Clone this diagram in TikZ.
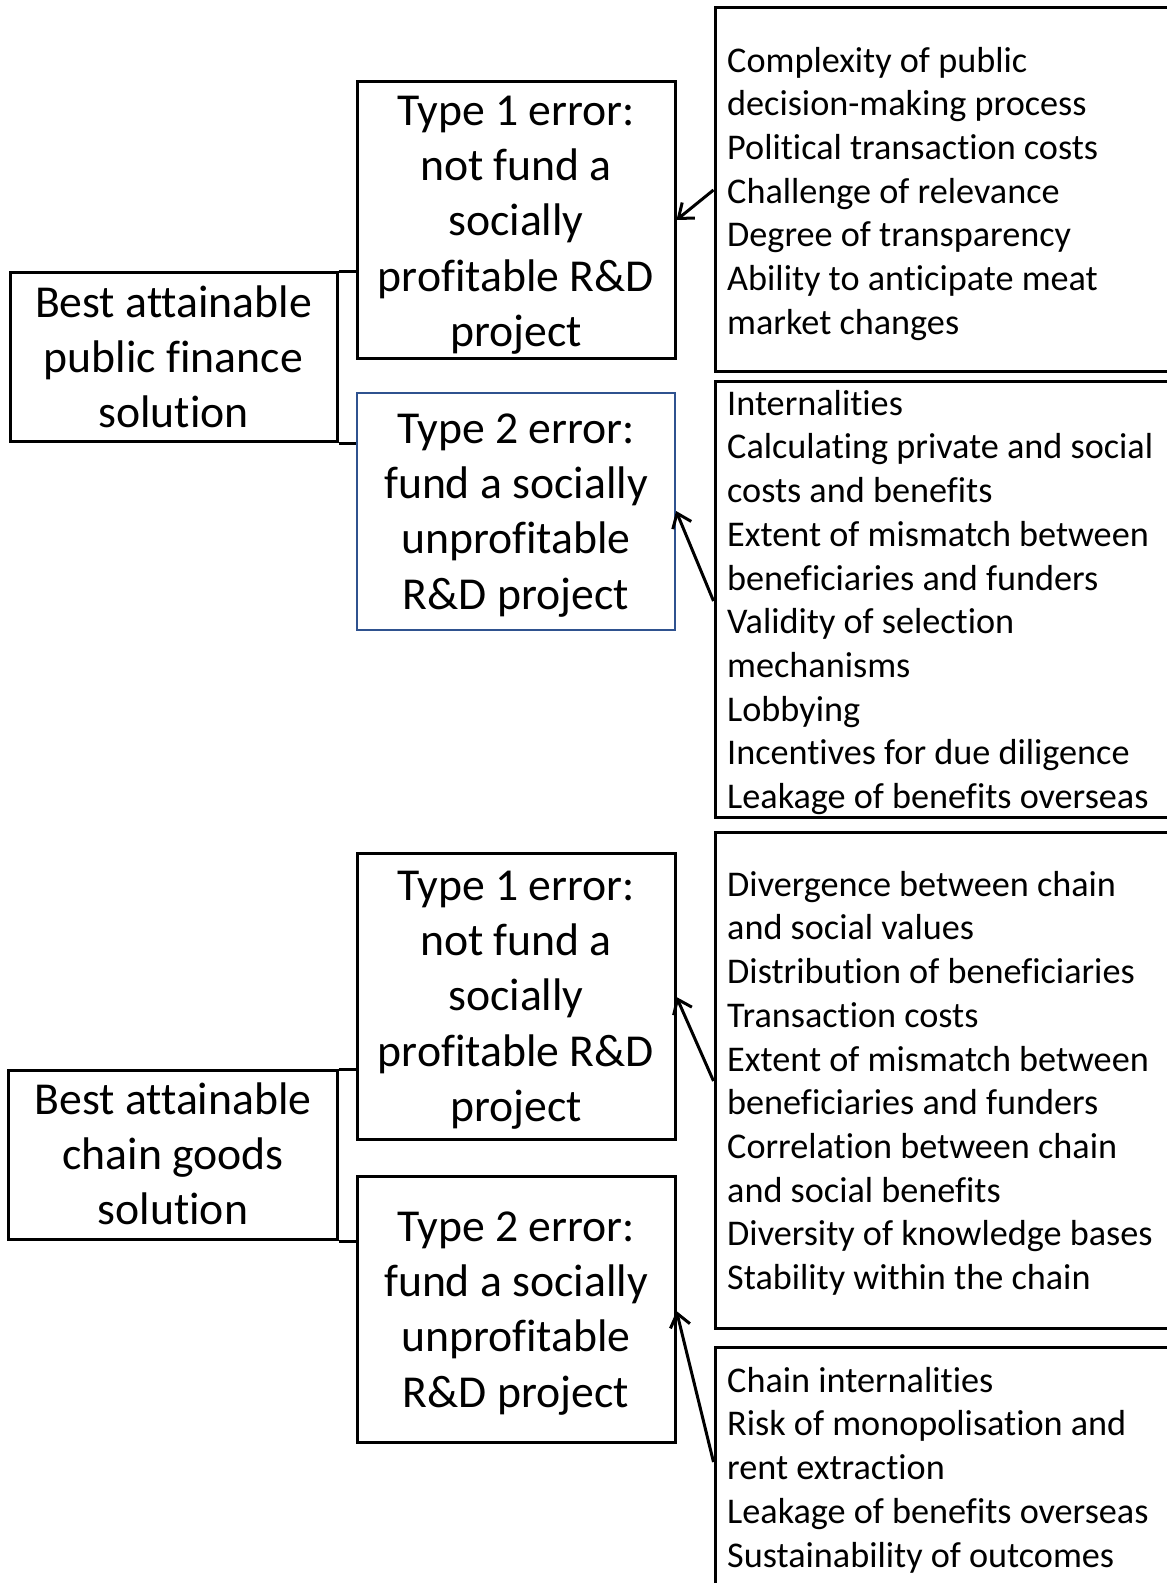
\documentclass[tikz,border=0pt]{standalone}
\usepackage{fontspec}
\setmainfont[Ligatures={CommonOff,ContextualOff},RawFeature={-liga;-clig;-calt;-dlig;-hlig}]{Carlito}
\usetikzlibrary{arrows.meta}
\definecolor{boxblue}{RGB}{47,82,143}
\begin{document}
\begin{tikzpicture}[x=1pt,y=-1pt,
  box/.style={draw=black,line width=3pt,rectangle,inner sep=0pt},
  bluebox/.style={draw=boxblue,line width=2.2pt,rectangle,inner sep=0pt},
  bigtxt/.style={anchor=north,inner sep=0pt,align=center,font=\fontsize{45.7}{55.3}\selectfont},
  listtxt/.style={anchor=north west,inner sep=0pt,align=left,font=\fontsize{36.2}{43.7}\selectfont},
  conn/.style={draw=black,line width=3pt},
  arr/.style={draw=black,line width=3pt,-{Straight Barb[length=13pt,width=20pt]}}
]
\clip (0,0) rectangle (1167,1583);
\fill[white] (0,0) rectangle (1167,1583);

% left boxes
\node[box,minimum width=327pt,minimum height=169pt] (lt) at (173.5,357) {};
\node[box,minimum width=329pt,minimum height=169pt] (lb) at (172.5,1155) {};
% middle boxes
\node[box,minimum width=318pt,minimum height=277pt] (t1) at (516,219.5) {};
\node[bluebox,minimum width=318pt,minimum height=237pt] (t2) at (516,511.5) {};
\node[box,minimum width=318pt,minimum height=286pt] (b1) at (516,996) {};
\node[box,minimum width=318pt,minimum height=266pt] (b2) at (516,1309) {};
% right boxes (open to the right / bottom)
\node[box,minimum width=480pt,minimum height=364pt] (r1) at (955,189.5) {};
\node[box,minimum width=480pt,minimum height=436pt] (r2) at (955,599.7) {};
\node[box,minimum width=480pt,minimum height=495.5pt] (r3) at (955,1080.7) {};
\node[box,minimum width=480pt,minimum height=260pt] (r4) at (955,1477.7) {};

% texts
\node[bigtxt] (ltt) at (173.5,278.3) {\strut Best attainable\\public finance\\solution};
\node[bigtxt] (lbt) at (173,1075.3) {\strut Best attainable\\chain goods\\solution};
\node[bigtxt] (t1t) at (516,86.3) {\strut Type 1 error:\\not fund a\\socially\\profitable R\&D\\project};
\node[bigtxt] (t2t) at (516,404.3) {\strut Type 2 error:\\fund a socially\\unprofitable\\R\&D project};
\node[bigtxt] (b1t) at (516,861.3) {\strut Type 1 error:\\not fund a\\socially\\profitable R\&D\\project};
\node[bigtxt] (b2t) at (516,1202.3) {\strut Type 2 error:\\fund a socially\\unprofitable\\R\&D project};

\node[listtxt] (r1t) at (727,41.4) {\strut Complexity of public\\decision-making process\\Political transaction costs\\Challenge of relevance\\Degree of transparency\\Ability to anticipate meat\\market changes};
\node[listtxt] (r2t) at (727,384.4) {\strut Internalities\\Calculating private and social\\costs and benefits\\Extent of mismatch between\\beneficiaries and funders\\Validity of selection\\mechanisms\\Lobbying\\Incentives for due diligence\\Leakage of benefits overseas};
\node[listtxt] (r3t) at (727,865.4) {\strut Divergence between chain\\and social values\\Distribution of beneficiaries\\Transaction costs\\Extent of mismatch between\\beneficiaries and funders\\Correlation between chain\\and social benefits\\Diversity of knowledge bases\\Stability within the chain};
\node[listtxt] (r4t) at (727,1361.4) {\strut Chain internalities\\Risk of monopolisation and\\rent extraction\\Leakage of benefits overseas\\Sustainability of outcomes};

% bracket connectors
\draw[conn] (lt.north east) -- (lt.north east -| t1.west);
\draw[conn] (lt.south east) -- (lt.south east -| t2.west);
\draw[conn] (lb.north east) -- (lb.north east -| b1.west);
\draw[conn] (lb.south east) -- (lb.south east -| b2.west);

% arrows
\draw[arr] (r1.west |- 0,190) -- (t1.east |- 0,220);
\draw[arr] (r2.west |- 0,601) -- (t2.east |- 0,511);
\draw[arr] (r3.west |- 0,1081) -- (b1.east |- 0,997);
\draw[arr] (r4.west |- 0,1462) -- (b2.east |- 0,1311);
\end{tikzpicture}
\end{document}
